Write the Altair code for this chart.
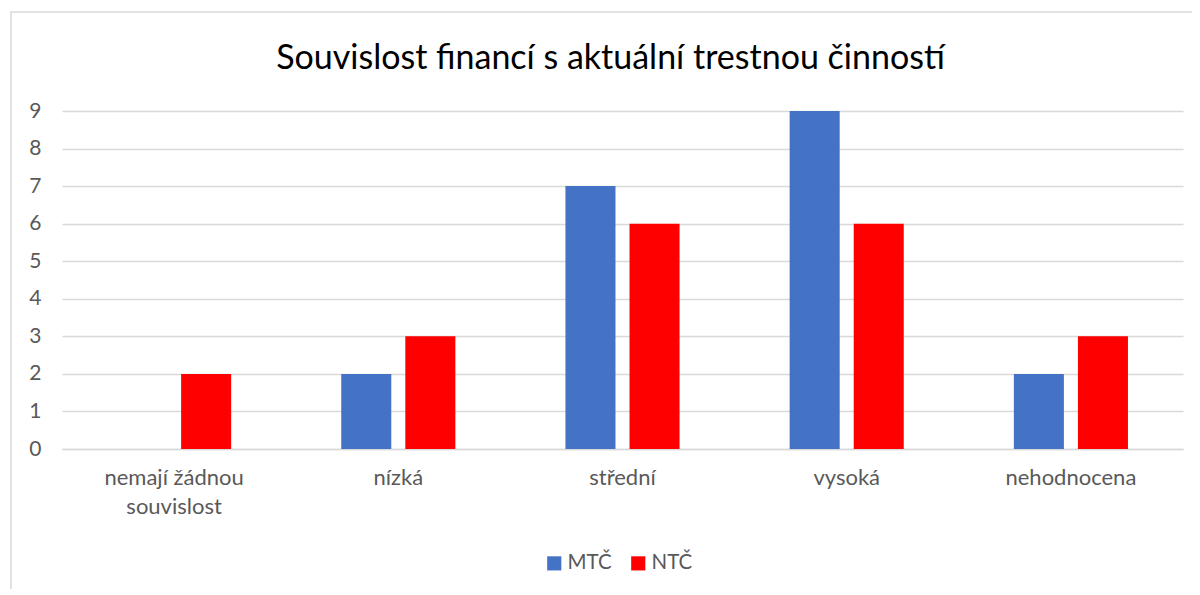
import altair as alt
import pandas as pd

categories = ["nemají žádnou\nsouvislost", "nízká", "střední", "vysoká", "nehodnocena"]
series = ["MTČ", "NTČ"]
mtc = [0, 2, 7, 9, 2]
ntc = [2, 3, 6, 6, 3]
colors = ["#4472C4", "#FF0000"]
y_ticks = list(range(0, 10))

rows = []
for c, a, b in zip(categories, mtc, ntc):
    rows.append({"kategorie": c, "serie": "MTČ", "hodnota": a})
    rows.append({"kategorie": c, "serie": "NTČ", "hodnota": b})
df = pd.DataFrame(rows)

FONT = "Lato"
GRAY = "#595959"
LS = 22

bars = alt.Chart(df).mark_bar().encode(
    x=alt.X("kategorie:N", sort=categories,
            scale=alt.Scale(paddingInner=0, paddingOuter=0),
            axis=alt.Axis(title=None, labelAngle=0, labelExpr="split(datum.label, '\\n')",
                          labelFontSize=LS, labelColor=GRAY, labelFont=FONT,
                          labelPadding=18, labelLineHeight=29, ticks=False,
                          domainColor="#d9d9d9", domainWidth=1.3, grid=False)),
    xOffset=alt.XOffset("serie:N", sort=series,
                        scale=alt.Scale(paddingInner=0.219, paddingOuter=0.859)),
    y=alt.Y("hodnota:Q", scale=alt.Scale(domain=[0, 9], nice=False),
            axis=alt.Axis(title=None, values=y_ticks, labelFontSize=21, labelColor=GRAY,
                          labelFont=FONT, labelPadding=21, ticks=False, domain=False,
                          gridColor="#d9d9d9", gridWidth=1.3)),
    color=alt.Color("serie:N", sort=series,
                    scale=alt.Scale(domain=series, range=colors),
                    legend=alt.Legend(title=None, orient="none", direction="horizontal",
                                      legendX=482, legendY=442, symbolType="square",
                                      symbolSize=200, symbolStrokeWidth=0,
                                      labelFontSize=20.5, labelColor=GRAY, labelFont=FONT,
                                      columnPadding=16, labelOffset=3)),
)

frame = alt.Chart(pd.DataFrame({"f": [0]})).mark_rect(
    fill=None, stroke="#d9d9d9", strokeWidth=1.5, clip=False
).encode(x=alt.value(-51), x2=alt.value(1220), y=alt.value(-99), y2=alt.value(620))

chart = alt.layer(frame, bars).properties(
    width=1121, height=338,
    title=alt.TitleParams("Souvislost financí s aktuální trestnou činností",
                          fontSize=34, font=FONT, fontWeight="normal", color="#000000",
                          anchor="middle", dx=-12, offset=-92, baseline="alphabetic"),
    padding={"left": 54, "top": 103, "right": 9, "bottom": 140},
    autosize=alt.AutoSizeParams(type="none"),
).configure_view(stroke=None)

chart.save("out.html", embed_options={"renderer": "svg", "actions": False})
